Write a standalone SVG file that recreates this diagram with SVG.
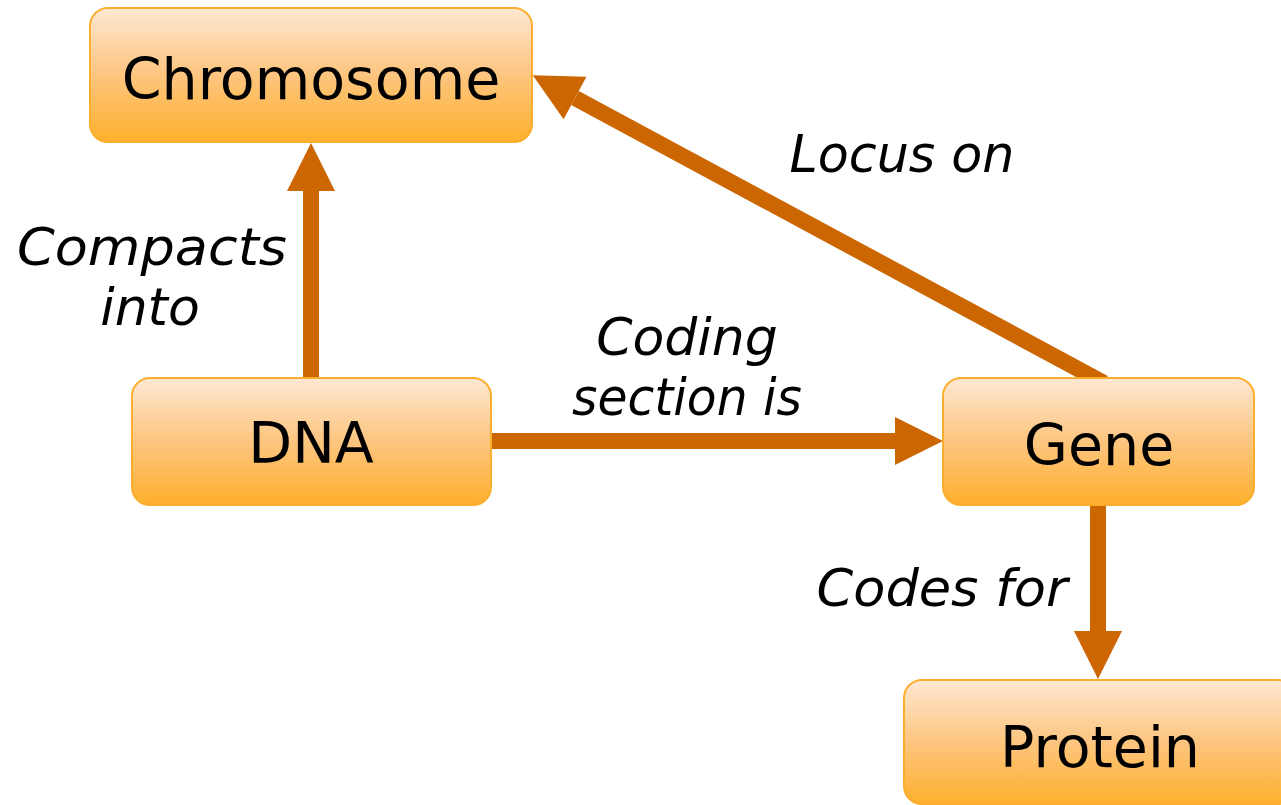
<svg xmlns="http://www.w3.org/2000/svg" width="1281" height="805" viewBox="0 0 1281 805">
  <style>
    .box { fill: url(#boxFill); stroke: #FBAE2E; stroke-width: 2; }
    .node-label { font-family: "DejaVu Sans", "Liberation Sans", sans-serif; font-size: 57px; fill: #000; text-anchor: middle; }
    .edge { stroke: #CC6600; stroke-width: 16; fill: none; marker-end: url(#head); }
    .edge-label { font-family: "DejaVu Sans", "Liberation Sans", sans-serif; font-style: italic; font-size: 52px; fill: #000; text-anchor: middle; }
  </style>
  <defs>
    <linearGradient id="boxFill" x1="0" y1="0" x2="0" y2="1">
      <stop offset="0" stop-color="#FEE8D3"/>
      <stop offset="0.5" stop-color="#FDC57F"/>
      <stop offset="1" stop-color="#FEB02C"/>
    </linearGradient>
    <marker id="head" markerUnits="userSpaceOnUse" markerWidth="50" markerHeight="48" refX="0" refY="24" orient="auto" overflow="visible">
      <path d="M0,0 L48,24 L0,48 Z" fill="#CC6600"/>
    </marker>
  </defs>

  <rect width="1281" height="805" fill="#FFFFFF"/>

  <!-- connectors -->
  <g id="connectors">
    <line class="edge" x1="311" y1="380" x2="311" y2="191"/>
    <line class="edge" x1="491" y1="441" x2="895" y2="441"/>
    <line class="edge" x1="1104" y1="383" x2="575" y2="98"/>
    <line class="edge" x1="1098" y1="505" x2="1098" y2="631"/>
  </g>

  <!-- connector labels -->
  <g id="edge-labels">
    <text class="edge-label" x="152" y="265" textLength="270" lengthAdjust="spacingAndGlyphs">Compacts</text>
    <text class="edge-label" x="150" y="325">into</text>
    <text class="edge-label" x="687" y="355">Coding</text>
    <text class="edge-label" x="687" y="415" textLength="230" lengthAdjust="spacingAndGlyphs">section is</text>
    <text class="edge-label" x="902" y="172" textLength="225" lengthAdjust="spacingAndGlyphs">Locus on</text>
    <text class="edge-label" x="942" y="606" textLength="251" lengthAdjust="spacingAndGlyphs">Codes for</text>
  </g>

  <g id="node-chromosome">
    <rect class="box" x="90" y="8" width="442" height="134" rx="18"/>
    <text class="node-label" x="311" y="99">Chromosome</text>
  </g>
  <g id="node-dna">
    <rect class="box" x="132" y="378" width="359" height="127" rx="18"/>
    <text class="node-label" x="311" y="463">DNA</text>
  </g>
  <g id="node-gene">
    <rect class="box" x="943" y="378" width="311" height="127" rx="18"/>
    <text class="node-label" x="1099" y="465">Gene</text>
  </g>
  <g id="node-protein">
    <rect class="box" x="904" y="680" width="392" height="124" rx="18"/>
    <text class="node-label" x="1100" y="767">Protein</text>
  </g>
</svg>
